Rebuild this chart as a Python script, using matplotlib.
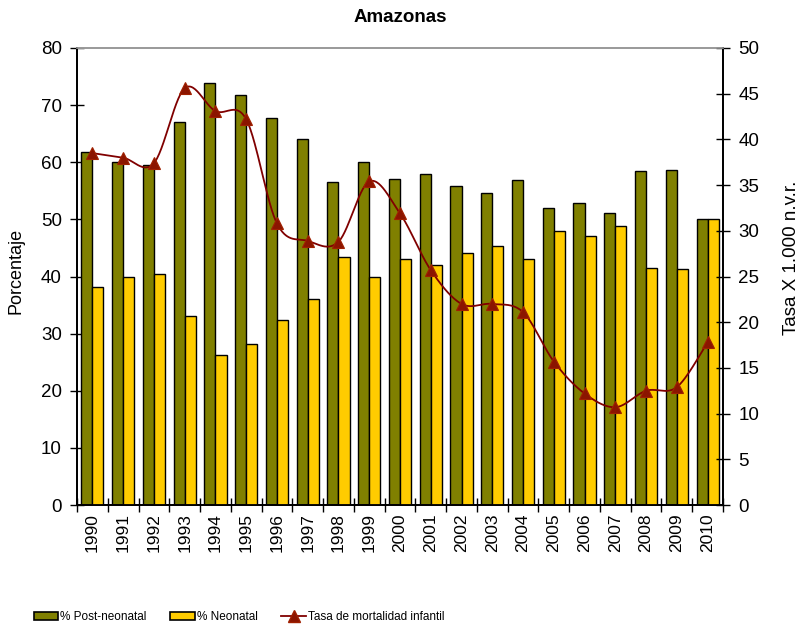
import numpy as np
import matplotlib
matplotlib.use("Agg")
import matplotlib.pyplot as plt
from matplotlib.lines import Line2D
from matplotlib.patches import Patch

plt.rcParams['font.family'] = ['Liberation Sans', 'DejaVu Sans']

years = [str(y) for y in range(1990, 2011)]
post_neonatal = [61.8, 60.0, 59.5, 67.0, 73.8, 71.8, 67.7, 64.0, 56.5, 60.0, 57.0,
                 57.9, 55.9, 54.7, 56.9, 52.0, 52.9, 51.2, 58.5, 58.7, 50.0]
neonatal = [38.2, 40.0, 40.5, 33.0, 26.2, 28.2, 32.3, 36.0, 43.5, 40.0, 43.0,
            42.1, 44.1, 45.3, 43.1, 48.0, 47.1, 48.8, 41.5, 41.3, 50.0]
tasa = [38.5, 38.0, 37.4, 45.6, 43.1, 42.2, 30.8, 28.9, 28.8, 35.4, 31.9,
        25.7, 22.0, 22.0, 21.1, 15.7, 12.2, 10.7, 12.5, 12.9, 17.8]

OLIVE = '#808000'
YELLOW = '#FFCC00'
LINE = '#800000'
MARK = '#8B1500'


def smooth_curve(xs, ys, n=30):
    """Catmull-Rom style smoothing through every point (as in spreadsheet smoothed lines)."""
    pts = np.column_stack([xs, ys]).astype(float)
    ext = np.vstack([pts[0], pts, pts[-1]])
    out = []
    t = np.linspace(0, 1, n)[:, None]
    for i in range(len(pts) - 1):
        p0, p1, p2, p3 = ext[i], ext[i + 1], ext[i + 2], ext[i + 3]
        b1 = p1 + (p2 - p0) / 6.0
        b2 = p2 - (p3 - p1) / 6.0
        seg = ((1 - t) ** 3) * p1 + 3 * ((1 - t) ** 2) * t * b1 + 3 * (1 - t) * t ** 2 * b2 + t ** 3 * p2
        out.append(seg if i == 0 else seg[1:])
    out = np.vstack(out)
    return out[:, 0], out[:, 1]


fig = plt.figure(figsize=(8.04, 6.31), dpi=100)
ax = fig.add_axes([77 / 804, 1 - 505 / 631, 646 / 804, 457 / 631])
ax2 = ax.twinx()

x = np.arange(len(years))
w = 0.36
ax.bar(x - w / 2, post_neonatal, width=w, color=OLIVE, edgecolor='black', linewidth=1.0, zorder=2)
ax.bar(x + w / 2, neonatal, width=w, color=YELLOW, edgecolor='black', linewidth=1.0, zorder=3)

sx, sy = smooth_curve(x, tasa)
ax2.plot(sx, sy, color=LINE, lw=1.3, zorder=4)
ax2.plot(x, tasa, linestyle='none', marker='^', markersize=9,
         markerfacecolor=MARK, markeredgecolor='#A02000', markeredgewidth=0.8, zorder=5)

ax.set_xlim(-0.5, len(years) - 0.5)
ax.set_ylim(0, 80)
ax2.set_ylim(0, 50)
ax.set_yticks(np.arange(0, 81, 10))
ax2.set_yticks(np.arange(0, 51, 5))

# category boundaries as tick marks, labels centred on each category
ax.set_xticks(np.arange(-0.5, len(years), 1.0))
ax.set_xticklabels([])
ax.set_xticks(x, minor=True)
ax.set_xticklabels(years, minor=True, rotation=90, fontsize=12.5)
ax.tick_params(axis='x', which='major', direction='inout', length=10, width=1)
ax.tick_params(axis='x', which='minor', length=0, pad=6)
ax.tick_params(axis='y', direction='inout', length=10, width=1, labelsize=13.5, pad=6)
ax2.tick_params(axis='y', direction='inout', length=10, width=1, labelsize=13.5, pad=6)

for a in (ax, ax2):
    a.spines['top'].set_color('#999999')
    a.spines['top'].set_linewidth(1.2)
    for s in ('left', 'right', 'bottom'):
        a.spines[s].set_linewidth(1.3)
        a.spines[s].set_color('black')

ax.set_ylabel('Porcentaje', fontsize=13)
ax.yaxis.set_label_coords(-0.082, 0.512)
ax2.set_ylabel('Tasa X 1.000 n.v.r.', fontsize=13.5)
ax2.yaxis.set_label_coords(1.093, 0.54)
fig.text(400 / 804, 1 - 17 / 631, 'Amazonas', ha='center', va='center',
         fontsize=13.5, fontweight='bold')

handles = [Patch(facecolor=OLIVE, edgecolor='black', linewidth=1.2),
           Patch(facecolor=YELLOW, edgecolor='black', linewidth=1.2),
           Line2D([0], [0], color=LINE, lw=1.3, marker='^', markersize=8,
                  markerfacecolor=MARK, markeredgecolor='#A02000')]
labels = ['% Post-neonatal', '% Neonatal', 'Tasa de mortalidad infantil']
fig.legend(handles, labels, loc='center left', bbox_to_anchor=(23 / 804, 1 - 617 / 631),
           ncol=3, frameon=False, fontsize=8.5, handlelength=2.1, handletextpad=0.16,
           columnspacing=2.0, handleheight=0.75)

fig.savefig('out.png', dpi=100)
